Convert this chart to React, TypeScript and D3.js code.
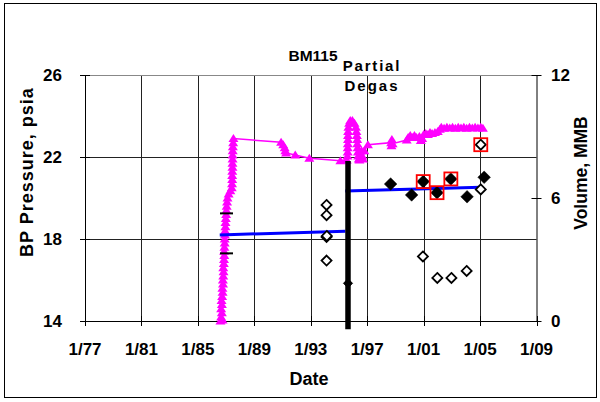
import React from "react";
import * as d3 from "d3";

// ---------- DATA ----------
const xTickYears = [1977, 1981, 1985, 1989, 1993, 1997, 2001, 2005, 2009];
const xTickLabels = ["1/77", "1/81", "1/85", "1/89", "1/93", "1/97", "1/01", "1/05", "1/09"];
const leftTicks = [14, 18, 22, 26];
const rightTicks = [0, 6, 12];
const leftGrid = [18, 22];

// BP pressure (psia) vs decimal year
const pressureSeries: [number, number][] = [
  [1986.6, 14.0], [1986.75, 14.05], [1986.65, 14.2], [1986.7, 14.4], [1986.65, 14.6],
  [1986.7, 14.8], [1986.68, 15.0], [1986.72, 15.2], [1986.75, 15.4], [1986.74, 15.6],
  [1986.78, 15.8], [1986.77, 16.0], [1986.8, 16.2], [1986.82, 16.4], [1986.8, 16.6],
  [1986.84, 16.8], [1986.85, 17.0], [1986.87, 17.2], [1986.86, 17.4], [1986.88, 17.6],
  [1986.9, 17.8], [1986.9, 18.0], [1986.92, 18.2], [1986.93, 18.4], [1986.95, 18.6],
  [1986.96, 18.8], [1986.98, 19.0], [1987.0, 19.2], [1987.02, 19.4], [1987.04, 19.6],
  [1987.07, 19.8], [1987.1, 20.0], [1987.18, 20.2], [1987.3, 20.35], [1987.4, 20.5],
  [1987.42, 20.7], [1987.43, 20.9], [1987.43, 21.1], [1987.44, 21.3], [1987.45, 21.5],
  [1987.45, 21.7], [1987.46, 21.9], [1987.46, 22.1], [1987.47, 22.3], [1987.48, 22.5],
  [1987.5, 22.7], [1987.52, 22.9],
  [1990.9, 22.72], [1991.05, 22.6], [1991.15, 22.45], [1991.2, 22.3], [1991.25, 22.2],
  [1991.9, 22.1], [1992.9, 21.94], [1995.1, 21.82],
  [1995.55, 21.85], [1995.6, 22.05], [1995.62, 22.25], [1995.62, 22.45], [1995.63, 22.65],
  [1995.64, 22.85], [1995.64, 23.05], [1995.65, 23.25], [1995.67, 23.45], [1995.72, 23.65],
  [1995.8, 23.78], [1995.95, 23.78], [1996.1, 23.65], [1996.2, 23.45], [1996.24, 23.25],
  [1996.27, 23.05], [1996.29, 22.85], [1996.3, 22.65], [1996.32, 22.45], [1996.34, 22.25],
  [1996.36, 22.05], [1996.4, 21.9], [1996.45, 21.85], [1996.55, 22.1],
  [1996.6, 22.3], [1996.65, 22.05], [1996.7, 21.9], [1996.8, 22.3],
  [1997.05, 22.6], [1998.7, 22.7], [1998.72, 22.55], [1998.75, 22.85], [1998.8, 22.65],
  [1999.8, 22.83], [1999.9, 22.95], [2000.05, 23.05], [2000.2, 22.95], [2000.35, 23.05],
  [2000.5, 22.95], [2000.7, 23.0], [2000.8, 22.8], [2000.9, 22.9], [2001.0, 23.1],
  [2001.15, 23.15], [2001.3, 23.1], [2001.45, 23.2], [2001.6, 23.15], [2001.8, 23.2],
  [2002.0, 23.25], [2002.15, 23.35], [2002.25, 23.45], [2002.45, 23.4], [2002.65, 23.45],
  [2002.85, 23.42], [2003.05, 23.45], [2003.25, 23.4], [2003.45, 23.45], [2003.65, 23.42],
  [2003.85, 23.45], [2004.05, 23.4], [2004.25, 23.45], [2004.45, 23.42], [2004.65, 23.45],
  [2004.85, 23.42], [2005.05, 23.45], [2005.2, 23.4],
];

// trend lines (psia)
const trendBefore: [number, number][] = [[1986.55, 18.2], [1995.45, 18.38]];
const trendAfter: [number, number][] = [[1995.45, 20.34], [2005.05, 20.52]];

// +/- markers (psia)
const dashMarks: [number, number][] = [[1987.03, 19.25], [1987.03, 17.3]];

// Partial degas event
const degasDate = 1995.64;
const degasRange: [number, number] = [21.8, 13.6];

// Volume (MMB), open diamonds
const volumeOpen: [number, number][] = [
  [1994.12, 5.66], [1994.12, 5.16], [1994.12, 4.1], [1994.14, 4.15], [1994.12, 2.95],
  [2000.95, 3.15], [2001.97, 2.1], [2002.97, 2.1], [2004.05, 2.44],
  [2005.05, 6.42], [2005.05, 8.6],
];
// Volume (MMB), filled diamonds
const volumeFilled: [number, number][] = [
  [1998.66, 6.68], [2000.15, 6.15], [2000.97, 6.8], [2001.95, 6.26],
  [2002.93, 6.93], [2004.08, 6.06], [2005.29, 7.01],
];
const volumeSmall: [number, number][] = [[1995.64, 1.84]];
// highlighted points (MMB)
const highlighted: [number, number][] = [
  [2000.97, 6.8], [2001.95, 6.26], [2002.93, 6.93], [2005.05, 8.6],
];

// ---------- CHART ----------
const W = 600;
const H = 402;
const FONT = "'Liberation Sans', Arial, sans-serif";

export default function App() {
  const x = d3.scaleLinear().domain([1977, 2009]).range([85, 536.5]);
  const yL = d3.scaleLinear().domain([14, 26]).range([321, 75]);
  const yR = d3.scaleLinear().domain([0, 12]).range([321, 75]);
  const [x0, x1] = x.range();
  const [yb, yt] = yL.range();

  const pLine = d3
    .line<[number, number]>()
    .x((d) => x(d[0]))
    .y((d) => yL(d[1]));

  const tri = (cx: number, cy: number) =>
    `M${cx},${cy - 4.5}L${cx + 5},${cy + 3.5}L${cx - 5},${cy + 3.5}Z`;
  const diamond = (cx: number, cy: number, r: number) =>
    `M${cx},${cy - r}L${cx + r},${cy}L${cx},${cy + r}L${cx - r},${cy}Z`;

  const tickStyle = { fontFamily: FONT, fontWeight: 700, fontSize: 17 } as const;

  return (
    <svg
      width={W}
      height={H}
      style={{ position: "absolute", left: 0, top: 0, background: "#fff" }}
    >
      <rect x={4.5} y={3.5} width={592} height={394} fill="#fff" stroke="#000" strokeWidth={1} />

      {/* title */}
      <text x={313} y={61} textAnchor="middle" style={{ fontFamily: FONT, fontWeight: 700, fontSize: 15.5 }}>
        BM115
      </text>

      {/* gridlines */}
      {xTickYears.slice(1, -1).map((t) => (
        <line key={"vg" + t} x1={Math.round(x(t)) + 0.5} x2={Math.round(x(t)) + 0.5} y1={yt} y2={yb} stroke="#222" strokeWidth={1} />
      ))}
      {leftGrid.map((t) => (
        <line key={"hg" + t} x1={x0} x2={x1} y1={Math.round(yL(t)) + 0.5} y2={Math.round(yL(t)) + 0.5} stroke="#222" strokeWidth={1} />
      ))}

      {/* plot frame */}
      <line x1={x0} x2={x1} y1={yt + 0.5} y2={yt + 0.5} stroke="#888" strokeWidth={1} />
      <line x1={x0 + 0.5} x2={x0 + 0.5} y1={yt} y2={yb} stroke="#000" strokeWidth={1} />
      <line x1={x1 + 0.5} x2={x1 + 0.5} y1={yt} y2={yb} stroke="#000" strokeWidth={1} />
      <line x1={x0} x2={x1} y1={yb + 0.5} y2={yb + 0.5} stroke="#000" strokeWidth={1} />

      {/* ticks */}
      {xTickYears.map((t) => (
        <line key={"xt" + t} x1={Math.round(x(t)) + 0.5} x2={Math.round(x(t)) + 0.5} y1={yb - 5} y2={yb + 5} stroke="#000" />
      ))}
      {leftTicks.map((t) => (
        <line key={"lt" + t} x1={x0 - 5} x2={x0 + 5} y1={Math.round(yL(t)) + 0.5} y2={Math.round(yL(t)) + 0.5} stroke="#000" />
      ))}
      {rightTicks.map((t) => (
        <line key={"rt" + t} x1={x1 - 5} x2={x1 + 5} y1={Math.round(yR(t)) + 0.5} y2={Math.round(yR(t)) + 0.5} stroke="#000" />
      ))}

      {/* tick labels */}
      {xTickYears.map((t, i) => (
        <text key={"xl" + t} x={x(t)} y={355} textAnchor="middle" style={tickStyle}>
          {xTickLabels[i]}
        </text>
      ))}
      {leftTicks.map((t) => (
        <text key={"ll" + t} x={62} y={yL(t)} dy="0.36em" textAnchor="end" style={tickStyle}>
          {t}
        </text>
      ))}
      {rightTicks.map((t) => (
        <text key={"rl" + t} x={551} y={yR(t)} dy="0.36em" textAnchor="start" style={tickStyle}>
          {t}
        </text>
      ))}

      {/* axis titles */}
      <text x={309} y={385} textAnchor="middle" style={{ fontFamily: FONT, fontWeight: 700, fontSize: 18 }}>
        Date
      </text>
      <text
        transform="translate(27,172) rotate(-90)"
        textAnchor="middle"
        dy="0.36em"
        style={{ fontFamily: FONT, fontWeight: 700, fontSize: 18, letterSpacing: 1 }}
      >
        BP Pressure, psia
      </text>
      <text
        transform="translate(581,173) rotate(-90)"
        textAnchor="middle"
        dy="0.36em"
        style={{ fontFamily: FONT, fontWeight: 700, fontSize: 17.5 }}
      >
        Volume, MMB
      </text>

      {/* annotation */}
      <text x={372} y={71} textAnchor="middle" style={{ fontFamily: FONT, fontWeight: 700, fontSize: 15, letterSpacing: 1.8 }}>
        Partial
      </text>
      <text x={372} y={91} textAnchor="middle" style={{ fontFamily: FONT, fontWeight: 700, fontSize: 15, letterSpacing: 2 }}>
        Degas
      </text>

      {/* pressure series */}
      <path d={pLine(pressureSeries) || ""} fill="none" stroke="#FF00FF" strokeWidth={1.5} />
      {pressureSeries.map((d, i) => (
        <path key={"p" + i} d={tri(x(d[0]), yL(d[1]))} fill="#FF00FF" stroke="none" />
      ))}

      {/* trend lines */}
      <path d={pLine(trendBefore) || ""} fill="none" stroke="#0000FF" strokeWidth={3} />
      <path d={pLine(trendAfter) || ""} fill="none" stroke="#0000FF" strokeWidth={3} />

      {/* dashes */}
      {dashMarks.map((d, i) => (
        <line key={"dm" + i} x1={x(d[0]) - 6.5} x2={x(d[0]) + 6.5} y1={yL(d[1])} y2={yL(d[1])} stroke="#000" strokeWidth={2} />
      ))}

      {/* degas bar */}
      <line x1={x(degasDate)} x2={x(degasDate)} y1={yL(degasRange[0])} y2={yL(degasRange[1])} stroke="#000" strokeWidth={5.5} />

      {/* volumes */}
      {volumeSmall.map((d, i) => (
        <path key={"vs" + i} d={diamond(x(d[0]), yR(d[1]), 4.5)} fill="#000" stroke="#000" strokeWidth={1} />
      ))}
      {volumeOpen.map((d, i) => (
        <path key={"vo" + i} d={diamond(x(d[0]), yR(d[1]), 5)} fill="#fff" stroke="#000" strokeWidth={1.8} />
      ))}
      {volumeFilled.map((d, i) => (
        <path key={"vf" + i} d={diamond(x(d[0]), yR(d[1]), 6.3)} fill="#000" stroke="#000" strokeWidth={0.5} />
      ))}
      {highlighted.map((d, i) => (
        <rect key={"hl" + i} x={x(d[0]) - 6.5} y={yR(d[1]) - 6.5} width={13} height={13} fill="none" stroke="#FF0000" strokeWidth={1.8} />
      ))}
    </svg>
  );
}
